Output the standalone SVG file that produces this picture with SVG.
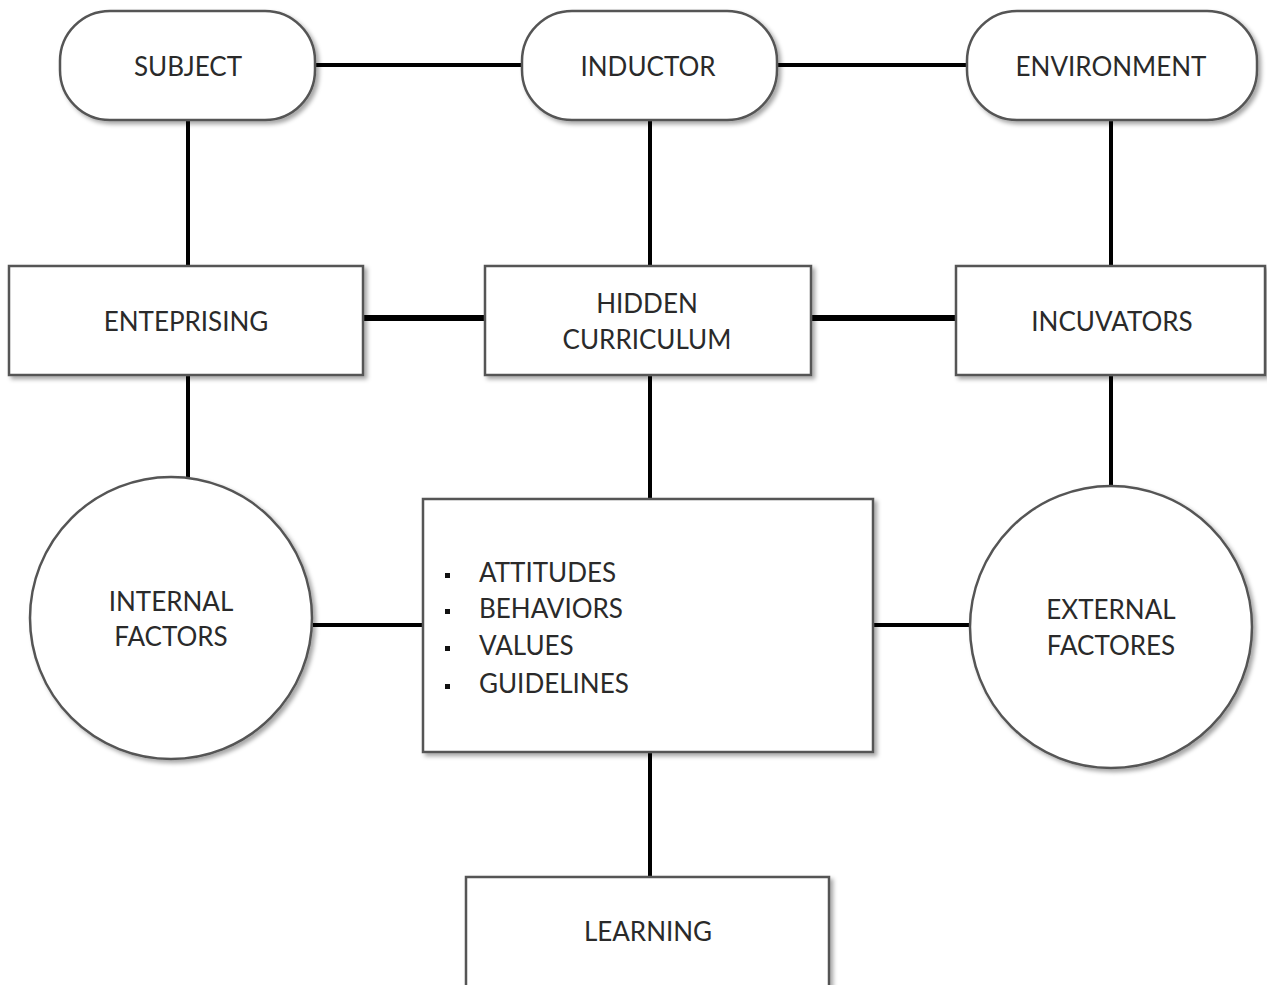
<svg xmlns="http://www.w3.org/2000/svg" width="1267" height="985" viewBox="0 0 1267 985">
<style>
.n{fill:#fff;stroke:#555;stroke-width:2.5;filter:url(#sh)}
.t{font-family:Lato,"Open Sans",sans-serif;font-size:26px;fill:#2a2a2a;text-anchor:middle}
.l{font-family:Lato,"Open Sans",sans-serif;font-size:26px;fill:#2a2a2a}
.c{stroke:#000;stroke-width:4;fill:none}
.c2{stroke:#000;stroke-width:6;fill:none}
</style>
<defs>
<filter id="sh" x="-10%" y="-10%" width="125%" height="125%">
<feDropShadow dx="3" dy="3" stdDeviation="2" flood-color="#000" flood-opacity="0.35"/>
</filter>
</defs>
<rect width="1267" height="985" fill="#fff"/>
<g id="connectors">
<line class="c" x1="315" y1="65" x2="522" y2="65"/>
<line class="c" x1="777" y1="65" x2="967" y2="65"/>
<line class="c" x1="188" y1="120" x2="188" y2="266"/>
<line class="c" x1="650" y1="120" x2="650" y2="266"/>
<line class="c" x1="1111" y1="120" x2="1111" y2="266"/>
<line class="c2" x1="363" y1="318" x2="485" y2="318"/>
<line class="c2" x1="811" y1="318" x2="956" y2="318"/>
<line class="c" x1="188" y1="375" x2="188" y2="477"/>
<line class="c" x1="650" y1="375" x2="650" y2="499"/>
<line class="c" x1="1111" y1="375" x2="1111" y2="486"/>
<line class="c" x1="313" y1="625" x2="423" y2="625"/>
<line class="c" x1="873" y1="625" x2="969" y2="625"/>
<line class="c" x1="650" y1="752" x2="650" y2="877"/>
</g>
<g id="subject">
<rect class="n" x="60" y="11" width="255" height="109" rx="50" ry="50"/>
<text class="t" x="188" y="76">SUBJECT</text>
</g>
<g id="inductor">
<rect class="n" x="522" y="11" width="255" height="109" rx="50" ry="50"/>
<text class="t" x="648" y="76">INDUCTOR</text>
</g>
<g id="environment">
<rect class="n" x="967" y="11" width="290" height="109" rx="50" ry="50"/>
<text class="t" x="1111" y="76">ENVIRONMENT</text>
</g>
<g id="enteprising">
<rect class="n" x="9" y="266" width="354" height="109"/>
<text class="t" x="186" y="331">ENTEPRISING</text>
</g>
<g id="hidden-curriculum">
<rect class="n" x="485" y="266" width="326" height="109"/>
<text class="t" x="647" y="313">HIDDEN</text>
<text class="t" x="647" y="349">CURRICULUM</text>
</g>
<g id="incuvators">
<rect class="n" x="956" y="266" width="309" height="109"/>
<text class="t" x="1112" y="331">INCUVATORS</text>
</g>
<g id="internal-factors">
<circle class="n" cx="171" cy="618" r="141"/>
<text class="t" x="171" y="611">INTERNAL</text>
<text class="t" x="171" y="646">FACTORS</text>
</g>
<g id="values-list">
<rect class="n" x="423" y="499" width="450" height="253"/>
<rect x="445" y="573" width="5" height="5" fill="#111"/>
<rect x="445" y="609" width="5" height="5" fill="#111"/>
<rect x="445" y="646" width="5" height="5" fill="#111"/>
<rect x="445" y="684" width="5" height="5" fill="#111"/>
<text class="l" x="479" y="582">ATTITUDES</text>
<text class="l" x="479" y="618">BEHAVIORS</text>
<text class="l" x="479" y="655">VALUES</text>
<text class="l" x="479" y="693">GUIDELINES</text>
</g>
<g id="external-factores">
<circle class="n" cx="1111" cy="627" r="141"/>
<text class="t" x="1111" y="619">EXTERNAL</text>
<text class="t" x="1111" y="655">FACTORES</text>
</g>
<g id="learning">
<rect class="n" x="466" y="877" width="363" height="115"/>
<text class="t" x="648" y="941">LEARNING</text>
</g>
</svg>
